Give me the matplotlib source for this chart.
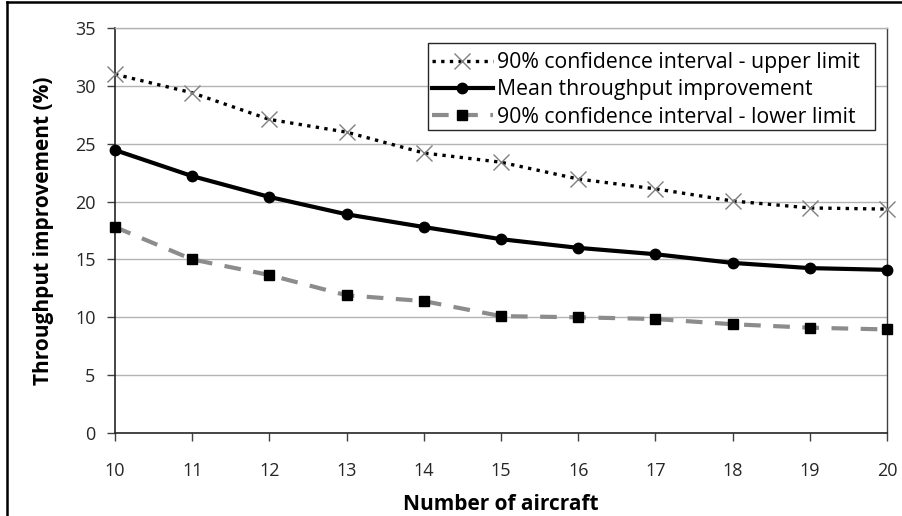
import matplotlib
matplotlib.use("Agg")
import matplotlib.pyplot as plt
from matplotlib.lines import Line2D
from matplotlib.patches import Rectangle

aircraft = [10, 11, 12, 13, 14, 15, 16, 17, 18, 19, 20]
upper = [31.0, 29.4, 27.1, 26.0, 24.2, 23.4, 21.95, 21.1, 20.05, 19.45, 19.35]
mean = [24.45, 22.2, 20.4, 18.9, 17.8, 16.75, 16.0, 15.45, 14.7, 14.25, 14.1]
lower = [17.8, 15.0, 13.65, 11.9, 11.4, 10.1, 10.0, 9.85, 9.4, 9.1, 8.95]
labels = ["90% confidence interval - upper limit",
          "Mean throughput improvement",
          "90% confidence interval - lower limit"]
yticks = [0, 5, 10, 15, 20, 25, 30, 35]

plt.rcParams['font.family'] = ['Open Sans', 'DejaVu Sans']

W, H = 903, 516
fig = plt.figure(figsize=(W / 100, H / 100), dpi=100)
ax = fig.add_axes([115 / W, 1 - 433 / H, (887 - 115) / W, (433 - 28) / H])

ax.plot(aircraft, upper, linestyle=(0, (1, 1.6)), color='black', linewidth=2.4,
        marker='x', markersize=11, markeredgecolor='#7f7f7f', markeredgewidth=1.0,
        label=labels[0], clip_on=False, zorder=3)
ax.plot(aircraft, mean, linestyle='-', color='black', linewidth=3.0,
        marker='o', markersize=7.5, markerfacecolor='black', markeredgecolor='black',
        label=labels[1], clip_on=False, zorder=4)
ax.plot(aircraft, lower, linestyle=(0, (4, 3)), color='#8c8c8c', linewidth=3.0,
        marker='s', markersize=7.5, markerfacecolor='black', markeredgecolor='black',
        label=labels[2], clip_on=False, zorder=3)

ax.set_xlim(10, 20)
ax.set_ylim(0, 35)
ax.set_xticks(aircraft)
ax.set_yticks(yticks)
ax.yaxis.grid(True, color='#b3b3b3', linewidth=1.0)
ax.set_axisbelow(True)

ax.spines['top'].set_color('#b3b3b3')
ax.spines['top'].set_linewidth(1.0)
ax.spines['right'].set_color('#404040')
ax.spines['right'].set_linewidth(1.0)
for s in ['left', 'bottom']:
    ax.spines[s].set_color('#262626')
    ax.spines[s].set_linewidth(1.2)

ax.tick_params(axis='both', direction='out', length=6, width=1, color='#404040',
               labelsize=13, labelcolor='#262626')
ax.tick_params(axis='x', pad=15)
ax.tick_params(axis='y', pad=8)

ax.set_xlabel("Number of aircraft", fontsize=15, fontweight='bold', labelpad=10)
ax.set_ylabel("Throughput improvement (%)", fontsize=15, fontweight='bold', labelpad=15)

# legend frame box
frame = Rectangle((428 / W, 1 - 130 / H), (875 - 428) / W, (130 - 43) / H,
                  transform=fig.transFigure, facecolor='white', edgecolor='#262626',
                  linewidth=1.0, zorder=5)
ax.add_patch(frame)
frame.set_clip_on(False)

leg = ax.legend(loc='upper left', bbox_to_anchor=(432 / W, 1 - 52 / H),
                bbox_transform=fig.transFigure, fontsize=15.3, frameon=False,
                handlelength=2.85, handletextpad=0.2, borderpad=0.0,
                labelspacing=0.3, borderaxespad=0)
leg.set_zorder(6)

# figure border (left and top)
fig.add_artist(Line2D([7 / W, 7 / W], [0, 1 - 2 / H], transform=fig.transFigure,
                      color='black', linewidth=1.8))
fig.add_artist(Line2D([7 / W, 1], [1 - 2 / H, 1 - 2 / H], transform=fig.transFigure,
                      color='black', linewidth=1.8))

fig.savefig("out.png", dpi=100)
